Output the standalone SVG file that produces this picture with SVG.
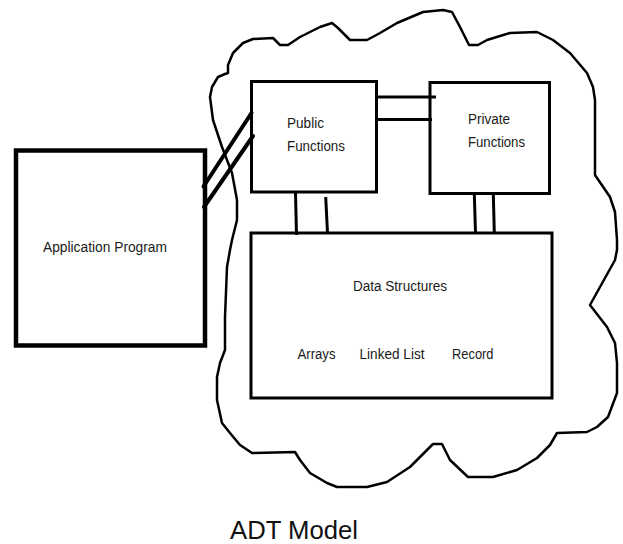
<svg xmlns="http://www.w3.org/2000/svg" width="623" height="544" viewBox="0 0 623 544">
<style>
.box{fill:none;stroke:#000;stroke-width:3}
.conn{stroke:#000;stroke-width:3;stroke-linecap:butt}
.lbl{font-family:"Liberation Sans",Arial,sans-serif;font-size:14px;fill:#1a1a1a}
.cloud{fill:none;stroke:#000;stroke-width:2.5;stroke-linejoin:round}
</style>
<rect width="623" height="544" fill="#fff"/>
<g id="adt-boundary">
<path class="cloud" d="M228,73 L228,65 L233,53 L243,43 L253,39 L273,38 L280,45 L288,45 L300,37 L320,27 L332,23 L338,28 L350,40 L367,40 L380,33 L397,23 L423,12 L443,10 L452,12 L460,27 L469,45 L478,45 L487,40 L510,33 L537,32 L553,40 L570,53 L587,73 L593,87 L595,100 L595,150 L595,175 L610,197 L615,212 L617,240 L617,250 L615,260 L590,305 L607,327 L615,343 L617,363 L617,393 L608,417 L597,427 L587,432 L557,433 L550,445 L537,458 L517,470 L493,477 L468,477 L450,460 L442,444 L433,444 L410,467 L387,482 L367,487 L337,487 L327,483 L310,473 L300,460 L295,452 L252,453 L240,445 L230,433 L222,423 L217,400 L217,377 L220,363 L225,350 L225,317 L227,267 L230,250 L232,240 L237,220 L237,200 L232,173 L222,147 L213,120 L210,97 L212,87 L218,77 L225,74 Z"/>
</g>
<g id="application-program">
<rect x="16" y="150.5" width="189" height="195" fill="none" stroke="#000" stroke-width="4.5"/>
<text class="lbl" x="43" y="251.5" textLength="124" lengthAdjust="spacingAndGlyphs">Application Program</text>
</g>
<g id="public-functions">
<rect class="box" x="251.5" y="81.5" width="125" height="110.5"/>
<text class="lbl" x="287" y="127.5" textLength="37" lengthAdjust="spacingAndGlyphs">Public</text>
<text class="lbl" x="287" y="151" textLength="58" lengthAdjust="spacingAndGlyphs">Functions</text>
</g>
<g id="private-functions">
<rect class="box" x="430" y="82.5" width="119.5" height="111"/>
<text class="lbl" x="468" y="123.5" textLength="42" lengthAdjust="spacingAndGlyphs">Private</text>
<text class="lbl" x="468" y="147" textLength="57" lengthAdjust="spacingAndGlyphs">Functions</text>
</g>
<g id="data-structures">
<rect class="box" x="251" y="233" width="301" height="165"/>
<text class="lbl" x="353" y="290.5" textLength="94" lengthAdjust="spacingAndGlyphs">Data Structures</text>
<text class="lbl" x="297.5" y="358.5" textLength="38" lengthAdjust="spacingAndGlyphs">Arrays</text>
<text class="lbl" x="359.5" y="358.5" textLength="65" lengthAdjust="spacingAndGlyphs">Linked List</text>
<text class="lbl" x="452" y="358.5" textLength="41.5" lengthAdjust="spacingAndGlyphs">Record</text>
</g>
<g id="connectors">
<line x1="203.5" y1="186.5" x2="251.5" y2="113" stroke="#000" stroke-width="4" stroke-linecap="round"/>
<line x1="204" y1="207" x2="253" y2="136" stroke="#000" stroke-width="4" stroke-linecap="round"/>
<line class="conn" x1="378" y1="97" x2="436" y2="97"/>
<line class="conn" x1="376" y1="119.5" x2="432" y2="119.5"/>
<line class="conn" x1="295.5" y1="193" x2="296.5" y2="235"/>
<line class="conn" x1="325.7" y1="197" x2="327.5" y2="233"/>
<line class="conn" x1="474.3" y1="194" x2="475.5" y2="233"/>
<line class="conn" x1="493.3" y1="194" x2="494.3" y2="233"/>
</g>
<text x="230" y="539" font-family="'Liberation Sans',Arial,sans-serif" font-size="26" fill="#111" textLength="128" lengthAdjust="spacingAndGlyphs">ADT Model</text>
</svg>
